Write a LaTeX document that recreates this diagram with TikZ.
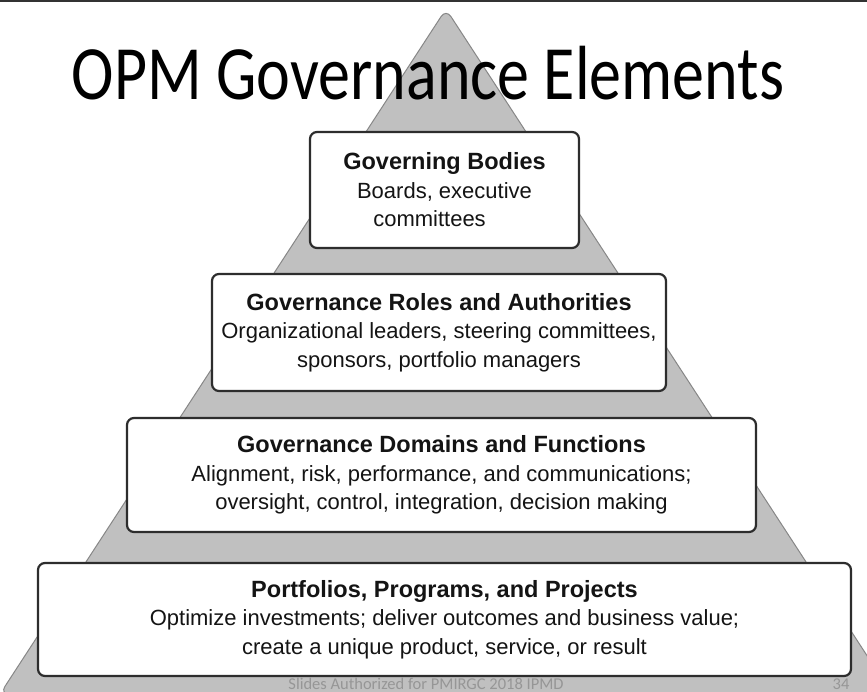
\documentclass[tikz,border=0pt]{standalone}
\usepackage{fontspec}
\setmainfont{Liberation Sans}
\newfontfamily\calibri{Carlito}
\definecolor{pyrfill}{RGB}{192,192,192}
\definecolor{pyredge}{RGB}{135,135,135}
\definecolor{boxline}{RGB}{45,45,45}
\definecolor{boxtext}{RGB}{20,20,20}
\definecolor{foot}{RGB}{150,150,150}
\definecolor{topline}{RGB}{50,50,50}
\begin{document}
\begin{tikzpicture}[x=1pt,y=-1pt,
  box/.style={draw=boxline, line width=2.2pt, fill=white, rounded corners=7pt,
    align=center, inner sep=0pt, text=boxtext,
    font=\fontsize{22}{28.5}\selectfont},
  pyr/.style={fill=pyrfill, draw=pyredge, line width=1pt, rounded corners=9pt},
  footer/.style={font=\calibri\fontsize{16.5}{19}\selectfont, text=foot, inner sep=0pt, anchor=base}]
\useasboundingbox (0,0) rectangle (867,692);
\fill[white] (0,0) rectangle (867,692);
\fill[topline] (0,0) rectangle (867,2.5);
\draw[pyr] (446,9) -- (892,694) -- (0,694) -- cycle;
\node[anchor=base, inner sep=0pt, font=\calibri\fontsize{64}{70}\selectfont] (title) at (428,100)
  {\scalebox{1}[1.2]{OPM Governance Elements}};
\node[box, minimum width=269pt, minimum height=116pt] (b1) at (444.5,190)
  {{\bfseries\fontsize{23.5}{28.5}\selectfont Governing Bodies}\\Boards, executive\\committees\hspace*{30pt}};
\node[box, minimum width=454pt, minimum height=117pt] (b2) at (439,332.5)
  {{\bfseries\fontsize{23.5}{28.5}\selectfont Governance Roles and Authorities}\\Organizational leaders, steering committees,\\sponsors, portfolio managers};
\node[box, minimum width=629pt, minimum height=114pt] (b3) at (441.5,475)
  {{\bfseries\fontsize{23.5}{28.5}\selectfont Governance Domains and Functions}\\Alignment, risk, performance, and communications;\\oversight, control, integration, decision making};
\node[box, minimum width=813pt, minimum height=113pt] (b4) at (444.5,619.5)
  {{\bfseries\fontsize{23.5}{28.5}\selectfont Portfolios, Programs, and Projects}\\Optimize investments; deliver outcomes and business value;\\create a unique product, service, or result};
\node[footer] (foot) at (426,689) {Slides Authorized for PMIRGC 2018 IPMD};
\node[footer] (page) at (841,689) {34};
\end{tikzpicture}
\end{document}
